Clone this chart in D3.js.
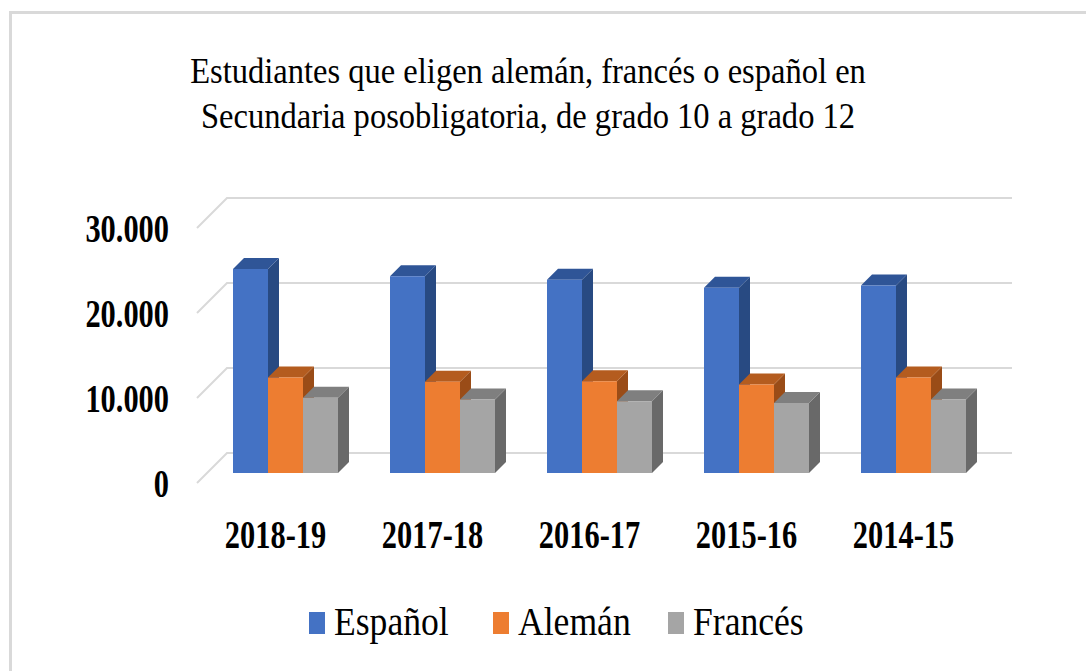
<!DOCTYPE html>
<html>
<head>
<meta charset="utf-8">
<script src="https://cdn.jsdelivr.net/npm/d3@7"></script>
<style>
  html, body { margin: 0; padding: 0; background: #ffffff; }
  svg { display: block; }
</style>
</head>
<body>
<svg id="chart" width="1086" height="671" style='font-family: "Liberation Serif"'></svg>
<script>
// ---- data ----
const categories = ["2018-19", "2017-18", "2016-17", "2015-16", "2014-15"];
const seriesNames = ["Español", "Alemán", "Francés"];
const espanol = [24000, 23150, 22750, 21800, 22050];
const aleman  = [11250, 10750, 10800, 10400, 11250];
const frances = [8850, 8650, 8450, 8250, 8650];
const yTicks = [0, 10000, 20000, 30000];
const titleLines = [
  "Estudiantes que eligen alemán, francés o español en",
  "Secundaria posobligatoria, de grado 10 a grado 12"
];

// ---- styles ----
const front = ["#4472C4", "#ED7D31", "#A5A5A5"];
const topC  = ["#2F5597", "#B45C1F", "#7F7F7F"];
const sideC = ["#284A82", "#9A4C17", "#696969"];
const seriesVals = [espanol, aleman, frances];
const FONT = '"Liberation Serif"';

const svg = d3.select("#chart");
svg.append("rect").attr("x", 0).attr("y", 0).attr("width", 1086).attr("height", 671).attr("fill", "#fff");
// chart area border
svg.append("rect").attr("x", 10.5).attr("y", 12.5).attr("width", 1200).attr("height", 800)
  .attr("fill", "none").attr("stroke", "#d9d9d9").attr("stroke-width", 3);

// ---- title ----
const titleY = [83, 128];
const titleSx = [0.93, 0.93];
titleLines.forEach((ln, k) => {
  svg.append("g").attr("transform", `translate(528,${titleY[k]}) scale(${titleSx[k]},1)`)
    .append("text").attr("text-anchor", "middle")
    .style("font-family", FONT).attr("font-size", 35).attr("font-weight", 500)
    .text(ln);
});

// ---- legend ----
const legX = [309, 493, 668];
seriesNames.forEach((s, j) => {
  svg.append("rect").attr("x", legX[j]).attr("y", 612).attr("width", 16).attr("height", 22).attr("fill", front[j]);
  svg.append("g").attr("transform", `translate(${legX[j] + 25},635) scale(0.89,1)`)
    .append("text").style("font-family", FONT).attr("font-size", 40).text(s);
});

// ---- scales ----
const depth = 30;          // total depth of the 3D plot
const barZ0 = 10, barZ1 = 21;
const x0 = d3.scaleBand().domain(categories).range([197, 982]).paddingInner(0).paddingOuter(0);
const x1 = d3.scaleBand().domain(seriesNames).range([0, x0.bandwidth()]).paddingInner(0).paddingOuter(0.743);
const y = d3.scaleLinear().domain([0, 30000]).range([483, 228]);
const P = (x, yy, z) => [x + z, yy - z];

// ---- gridlines ----
const grid = svg.append("g").attr("stroke", "#d9d9d9").attr("stroke-width", 2).attr("fill", "none");
yTicks.forEach(t => {
  const a = P(x0.range()[0], y(t), 0), b = P(x0.range()[0], y(t), depth), c = P(x0.range()[1], y(t), depth);
  grid.append("path").attr("d", `M${a[0]},${a[1]}L${b[0]},${b[1]}L${c[0]},${c[1]}`);
});

// ---- bars ----
const bars = svg.append("g");
categories.forEach((cat, i) => {
  seriesNames.forEach((s, j) => {
    const v = seriesVals[j][i];
    const xa = x0(cat) + x1(s), xb = xa + x1.bandwidth();
    const yv = y(v), yb = y(0);
    const poly = pts => pts.map(p => p.join(",")).join(" ");
    bars.append("polygon").attr("fill", sideC[j])
      .attr("points", poly([P(xb, yv, barZ0), P(xb, yv, barZ1), P(xb, yb, barZ1), P(xb, yb, barZ0)]));
    bars.append("polygon").attr("fill", topC[j])
      .attr("points", poly([P(xa, yv, barZ0), P(xb, yv, barZ0), P(xb, yv, barZ1), P(xa, yv, barZ1)]));
    bars.append("polygon").attr("fill", front[j])
      .attr("points", poly([P(xa, yv, barZ0), P(xb, yv, barZ0), P(xb, yb, barZ0), P(xa, yb, barZ0)]));
  });
});

// ---- axis labels ----
const loc = d3.formatLocale({decimal: ",", thousands: ".", grouping: [3], currency: ["", "€"]});
const fmt = loc.format(",");
const sx = 0.76;
yTicks.forEach(t => {
  svg.append("g").attr("transform", `translate(169,${y(t)}) scale(${sx},1)`)
    .append("text").attr("text-anchor", "end").attr("dy", "0.35em")
    .style("font-family", FONT).attr("font-weight", "bold").attr("font-size", 40)
    .text(fmt(t));
});
categories.forEach(cat => {
  svg.append("g").attr("transform", `translate(${x0(cat) + x0.bandwidth() / 2},548) scale(${sx},1)`)
    .append("text").attr("text-anchor", "middle")
    .style("font-family", FONT).attr("font-weight", "bold").attr("font-size", 40)
    .text(cat);
});
</script>
</body>
</html>
